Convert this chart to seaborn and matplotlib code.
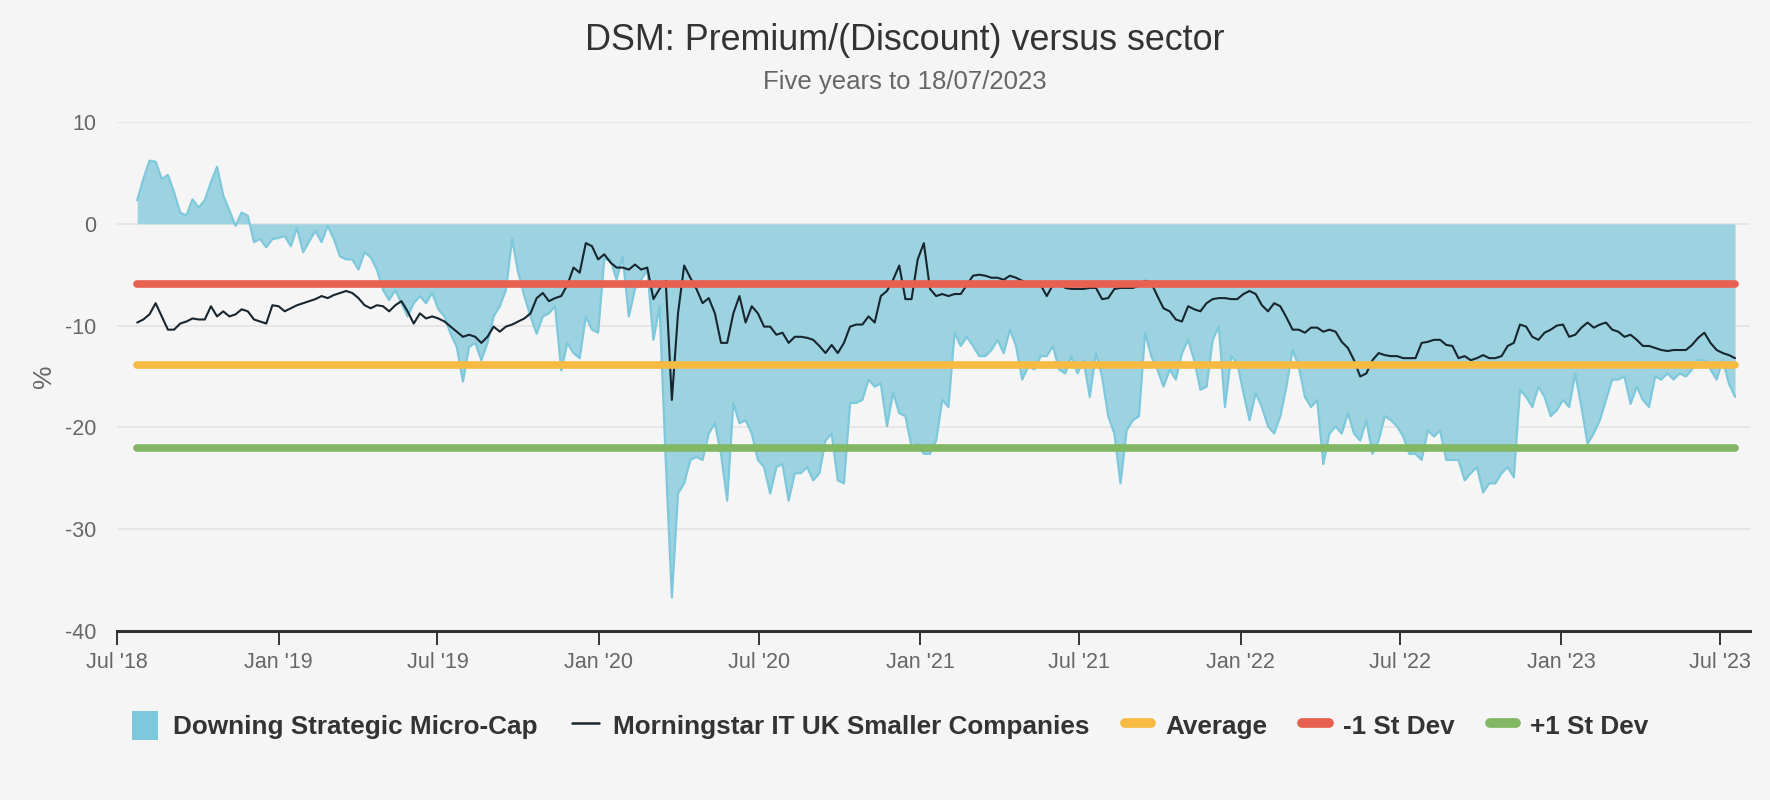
import pandas as pd
import matplotlib
matplotlib.use("Agg")
import matplotlib.pyplot as plt
import seaborn as sns
from matplotlib.patches import Patch
from matplotlib.lines import Line2D

sns.set_theme(style="white")
plt.rcParams["font.family"] = ["Liberation Sans", "DejaVu Sans"]
plt.rcParams["axes.unicode_minus"] = False

# weekly readings, 24/07/2018 .. 18/07/2023
dates = pd.date_range(end="2023-07-18", periods=261, freq="7D")

dsm = [
    2.3, 4.4, 6.2, 6.1, 4.4, 4.8, 3.1, 1.1, 0.8, 2.4, 1.6, 2.3, 4.1, 5.6, 2.8, 1.3, -0.2, 1.1, 0.8, -1.8,
    -1.5, -2.3, -1.5, -1.4, -1.2, -2.2, -0.4, -2.8, -1.7, -0.7, -1.8, -0.2, -1.5, -3.2, -3.5, -3.5, -4.5,
    -2.8, -3.3, -4.5, -6.5, -7.5, -6.5, -7.8, -9.1, -7.8, -7.1, -7.8, -6.8, -8.4, -9.1, -10.8, -12.1, -15.5,
    -12.1, -11.7, -13.4, -11.7, -9.1, -8.1, -6.5, -1.5, -4.8, -7.1, -9.1, -10.8, -9.1, -8.8, -8.1, -14.4,
    -11.7, -12.7, -13.2, -9.1, -10.4,
    -10.7, -3.5, -3.5, -5.5, -3.2, -9.1, -6.4, -5.5, -4.5, -11.4, -8.1, -23.2, -36.7, -26.5, -25.5, -23.2,
    -22.9, -23.2, -20.6, -19.6, -22.6, -27.2, -17.6, -19.6, -19.3, -20.6, -23.2, -23.9, -26.5, -23.9, -23.6,
    -27.2, -24.5, -24.5, -23.9, -25.2, -24.5, -21.3,
    -20.6, -25.2, -25.5, -17.6, -17.6, -17.3, -15.3, -16.0, -15.7, -19.9, -16.6, -18.6, -18.9, -21.9, -21.6,
    -22.6, -22.6, -21.3, -17.3, -18.0, -10.7, -12.0, -11.1, -12.0, -13.0, -13.0, -12.4, -11.4, -12.7, -10.4,
    -12.0, -15.3, -14.0, -14.3, -13.0, -13.0, -12.0, -14.3,
    -14.7, -13.0, -14.7, -13.4, -17.0, -12.7, -15.0, -18.9, -20.6, -25.5, -20.3, -19.3, -18.9, -10.7, -13.0,
    -14.3, -16.0, -14.3, -15.3, -12.7, -11.4, -13.4, -16.3, -16.0, -11.4, -10.1, -18.0, -13.0, -13.7, -16.6,
    -19.3, -16.6, -18.0, -19.9, -20.6, -18.9, -16.0, -12.4,
    -14.0, -17.0, -18.0, -17.3, -23.6, -20.6, -19.9, -20.6, -18.6, -20.6, -21.3, -19.3, -22.6, -21.3, -18.9,
    -19.3, -19.9, -20.9, -22.6, -22.6, -23.2, -20.3, -20.9, -20.3, -23.2, -23.2, -23.2, -25.2, -24.5, -23.9,
    -26.4, -25.5, -25.5, -24.5, -23.9, -24.9, -16.3, -17.0,
    -18.0, -16.0, -17.0, -18.9, -18.3, -17.3, -18.0, -14.7, -18.0, -21.6, -20.6, -19.3, -17.3, -15.3, -15.3,
    -15.0, -17.7, -16.0, -17.3, -18.0, -15.0, -15.3, -14.7, -15.3, -14.7, -15.0, -14.3, -13.4, -13.4, -14.3,
    -15.3, -13.4, -15.7, -17.0,
]

sector = [
    -9.7, -9.4, -8.9, -7.8, -9.1, -10.4, -10.4, -9.8, -9.6, -9.3, -9.4, -9.4, -8.1, -9.1, -8.6, -9.1, -8.9,
    -8.4, -8.6, -9.4, -9.6, -9.8, -8.0, -8.1, -8.6, -8.3, -8.0, -7.8, -7.6, -7.4, -7.1, -7.3, -7.0, -6.8,
    -6.6, -6.8, -7.3,
    -8.0, -8.3, -8.0, -8.1, -8.6, -8.0, -7.6, -8.6, -9.8, -8.8, -9.3, -9.1, -9.3, -9.6, -10.1, -10.6, -11.1,
    -10.9, -11.1, -11.7, -11.1, -10.1, -10.6, -10.1, -9.9, -9.6, -9.3, -8.8, -7.3, -6.8, -7.6, -7.3, -7.1,
    -6.0, -4.3, -4.8, -1.9, -2.2,
    -3.5, -3.0, -3.8, -4.3, -4.3, -4.5, -4.0, -4.5, -4.3, -7.4, -6.4, -5.6, -17.3, -8.8, -4.1, -5.3, -6.4,
    -7.8, -7.3, -8.8, -11.7, -11.7, -8.8, -7.1, -9.7, -8.1, -8.8, -10.1, -10.1, -10.9, -10.7, -11.7, -11.1,
    -11.1, -11.2, -11.4, -12.0, -12.7,
    -11.9, -12.7, -11.7, -10.1, -9.9, -9.9, -9.1, -9.7, -7.1, -6.6, -5.5, -4.1, -7.4, -7.4, -3.5, -1.9,
    -6.4, -7.1, -6.9, -7.1, -6.9, -6.9, -6.0, -5.1, -5.0, -5.1, -5.3, -5.3, -5.5, -5.1, -5.3, -5.6, -5.8,
    -5.8, -6.0, -7.1, -6.0, -5.8,
    -6.3, -6.4, -6.4, -6.4, -6.3, -6.3, -7.4, -7.3, -6.4, -6.3, -6.3, -6.3, -6.1, -5.6, -5.8, -7.1, -8.3,
    -8.6, -9.4, -9.6, -8.1, -8.4, -8.6, -7.8, -7.4, -7.3, -7.3, -7.4, -7.4, -6.9, -6.6, -6.9, -8.0, -8.6,
    -7.8, -8.1, -9.2, -10.4,
    -10.4, -10.7, -10.2, -10.2, -10.6, -10.4, -10.6, -11.6, -12.2, -13.4, -15.0, -14.7, -13.4, -12.7, -12.9,
    -13.0, -13.0, -13.2, -13.2, -13.2, -11.7, -11.6, -11.4, -11.4, -11.9, -12.0, -13.2, -13.0, -13.4, -13.2,
    -12.9, -13.2, -13.2, -13.0, -12.0, -11.7, -9.9, -10.1,
    -11.1, -11.4, -10.7, -10.4, -10.0, -9.9, -11.1, -10.9, -10.2, -9.7, -10.2, -9.9, -9.7, -10.4, -10.6,
    -11.1, -10.9, -11.4, -12.0, -12.0, -12.2, -12.4, -12.5, -12.4, -12.4, -12.4, -11.9, -11.2, -10.7, -11.7,
    -12.4, -12.7, -12.9, -13.2,
]

average = -13.9
minus_sd = -5.9
plus_sd = -22.0

df = pd.DataFrame({"date": dates, "dsm": dsm, "sector": sector})

fig = plt.figure(figsize=(17.7, 8), dpi=100, facecolor="#f5f5f5")
ax = fig.add_axes([0.0661, 0.2113, 0.9226, 0.6362])
ax.set_facecolor("#f5f5f5")

ax.fill_between(df["date"], df["dsm"], 0, color="#9dd3e1", lw=0, zorder=2)
sns.lineplot(data=df, x="date", y="dsm", color="#7ec8dc", lw=1.6, ax=ax, zorder=3)
sns.lineplot(data=df, x="date", y="sector", color="#17252e", lw=1.5, ax=ax, zorder=4)

d0, d1 = df["date"].iloc[0], df["date"].iloc[-1]
for val, col in [(average, "#f7bb43"), (minus_sd, "#e8604f"), (plus_sd, "#82b863")]:
    ax.plot([d0, d1], [val, val], color=col, lw=5.5, solid_capstyle="round", zorder=5)

ax.set_ylim(-40, 10)
ax.set_yticks([-40, -30, -20, -10, 0, 10])
ax.set_xlim(pd.Timestamp("2018-07-01"), pd.Timestamp("2023-08-04"))
xt = pd.date_range("2018-07-01", "2023-07-01", freq="6MS")
ax.set_xticks(xt)
ax.set_xticklabels([d.strftime("%b '%y") for d in xt])

ax.grid(axis="y", color="#e4e4e4", lw=1.2)
ax.grid(axis="x", visible=False)
for s in ["top", "right", "left"]:
    ax.spines[s].set_visible(False)
ax.spines["bottom"].set_color("#333333")
ax.spines["bottom"].set_linewidth(2.2)
ax.tick_params(axis="x", direction="out", length=10, width=1.4, color="#333333",
               labelsize=15.5, labelcolor="#666666", pad=5, bottom=True)
ax.tick_params(axis="y", length=0, labelsize=15.5, labelcolor="#666666", pad=15)
ax.set_xlabel("")
ax.set_ylabel("%", fontsize=19, color="#666666", labelpad=6)

fig.text(0.511, 0.950, "DSM: Premium/(Discount) versus sector", ha="center", va="center",
         fontsize=25.8, color="#333333")
fig.text(0.511, 0.898, "Five years to 18/07/2023", ha="center", va="center",
         fontsize=18.5, color="#666666")

handles = [
    Patch(facecolor="#7ec8dc", edgecolor="none"),
    Line2D([], [], color="#17252e", lw=1.8),
    Line2D([], [], color="#f7bb43", lw=7, solid_capstyle="round"),
    Line2D([], [], color="#e8604f", lw=7, solid_capstyle="round"),
    Line2D([], [], color="#82b863", lw=7, solid_capstyle="round"),
]
labels = ["Downing Strategic Micro-Cap", "Morningstar IT UK Smaller Companies",
          "Average", "-1 St Dev", "+1 St Dev"]
leg = fig.legend(handles, labels, loc="center", bbox_to_anchor=(0.503, 0.093), ncol=5,
                 frameon=False, handlelength=1.0, handleheight=1.3, handletextpad=0.55,
                 columnspacing=1.35, prop={"weight": "bold", "size": 18.8})
for t in leg.get_texts():
    t.set_color("#333333")

fig.savefig("out.png", dpi=100, facecolor=fig.get_facecolor())
